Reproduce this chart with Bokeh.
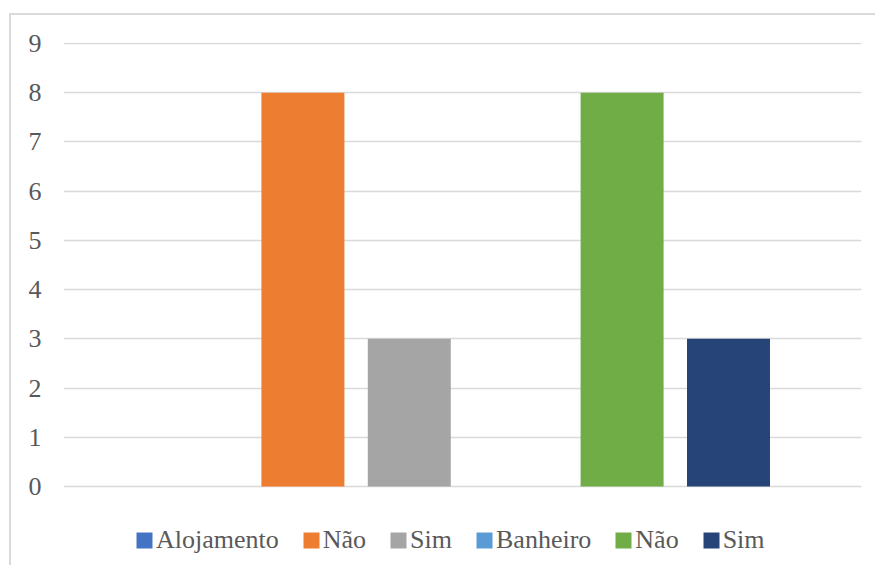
import numpy as np
from bokeh.plotting import figure
from bokeh.models import Range1d, FixedTicker, Legend, LegendItem, ColumnDataSource
from bokeh.embed import file_html
from bokeh.resources import INLINE

# data
series_labels = ["Alojamento", "Não", "Sim", "Banheiro", "Não", "Sim"]
series_values = [0, 8, 3, 0, 8, 3]
series_colors = ["#4472C4", "#ED7D31", "#A5A5A5", "#5B9BD5", "#70AD47", "#264478"]
y_ticks = [0, 1, 2, 3, 4, 5, 6, 7, 8, 9]

FONT = "'Times New Roman', 'Liberation Serif', 'DejaVu Serif', serif"
TXT = "#595959"

# frame covers plot + legend strip; axis ticks only 0..9
p = figure(width=866, height=552, output_backend="svg", toolbar_location=None,
           x_range=Range1d(-1.25, len(series_labels) + 0.25),
           y_range=Range1d(-1.6456, 9.0203),
           min_border_left=52, min_border_right=16, min_border_top=27, min_border_bottom=0)
p.margin = (13, 0, 0, 9)
p.styles = {"border-left": "2px solid #d9d9d9", "border-top": "2px solid #d9d9d9"}
p.outline_line_color = None
p.background_fill_color = "white"
p.border_fill_color = "white"

p.xaxis.visible = False
p.xgrid.visible = False
p.ygrid.grid_line_color = "#d9d9d9"
p.ygrid.grid_line_width = 1.5

ax = p.yaxis[0]
ax.ticker = FixedTicker(ticks=y_ticks)
ax.axis_line_color = None
ax.major_tick_line_color = None
ax.minor_tick_line_color = None
ax.major_tick_out = 0
ax.major_tick_in = 0
ax.major_label_standoff = 22
ax.major_label_text_font = FONT
ax.major_label_text_font_size = "26px"
ax.major_label_text_color = TXT

xs = np.arange(len(series_labels))
items = []
for i, (lab, val, col) in enumerate(zip(series_labels, series_values, series_colors)):
    src = ColumnDataSource(dict(x=[xs[i]], top=[val]))
    r = p.vbar(x="x", top="top", bottom=0, width=0.78, source=src,
               fill_color=col, line_color=None)
    items.append(LegendItem(label=lab, renderers=[r]))

legend = Legend(items=items, orientation="horizontal", location=(71, 12))
legend.label_text_font = FONT
legend.label_text_font_size = "26px"
legend.label_text_color = TXT
legend.glyph_width = 20
legend.glyph_height = 20
legend.label_standoff = 2
legend.spacing = 22
legend.padding = 0
legend.margin = 0
legend.border_line_color = None
legend.background_fill_alpha = 0
p.add_layout(legend, "center")

open("out.html", "w").write(file_html(p, INLINE))
